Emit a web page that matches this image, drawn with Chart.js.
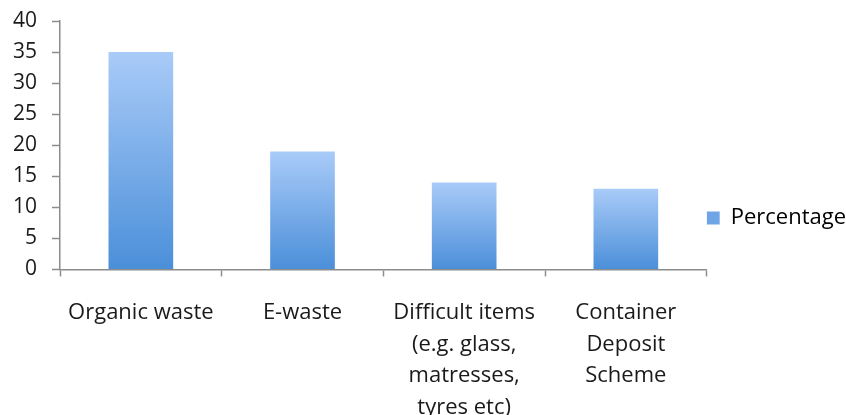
<!DOCTYPE html>
<html>
<head>
<meta charset="utf-8">
<script src="https://cdn.jsdelivr.net/npm/chart.js@4/dist/chart.umd.min.js"></script>
<style>
    html, body { margin: 0; padding: 0; background: #fff; }
    #wrap { width: 846px; height: 415px; }
</style>
</head>
<body>
<div id="wrap"><canvas id="chart"></canvas></div>
<script>
const categories = [
    ['Organic waste'],
    ['E-waste'],
    ['Difficult items', '(e.g. glass,', 'matresses,', 'tyres etc)'],
    ['Container', 'Deposit', 'Scheme']
];
const percentage = [35, 19, 14, 13];
const yMin = 0;
const yMax = 40;
const yStep = 5;

const axisColor = '#8c8c8c';
const textColor = '#1a1a1a';
const fontFamily = "'Open Sans', sans-serif";

function barGradient(context) {
    const chart = context.chart;
    const yScale = chart.scales.y;
    if (!chart.chartArea || !yScale || context.parsed === undefined) return '#7aaeea';
    const top = yScale.getPixelForValue(context.parsed.y);
    const bottom = yScale.getPixelForValue(0);
    if (!isFinite(top) || !isFinite(bottom) || top === bottom) return '#7aaeea';
    const g = chart.ctx.createLinearGradient(0, top, 0, bottom);
    g.addColorStop(0, '#a9cbf8');
    g.addColorStop(1, '#4b8fd9');
    return g;
}

new Chart(document.getElementById('chart'), {
    type: 'bar',
    data: {
        labels: categories,
        datasets: [{
            label: 'Percentage',
            data: percentage,
            backgroundColor: barGradient,
            borderWidth: 0,
            barPercentage: 0.4,
            categoryPercentage: 1
        }]
    },
    options: {
        responsive: true,
        maintainAspectRatio: false,
        animation: false,
        layout: { padding: { top: 21, right: -10, left: -2, bottom: 0 } },
        plugins: {
            legend: {
                position: 'right',
                labels: {
                    color: textColor,
                    boxWidth: 13,
                    boxHeight: 13,
                    padding: 0,
                    font: { family: fontFamily, size: 22 },
                    generateLabels: (chart) => [{
                        text: 'Percentage',
                        fillStyle: '#6fa4e6',
                        strokeStyle: '#6fa4e6',
                        lineWidth: 0,
                        datasetIndex: 0
                    }]
                }
            },
            tooltip: { enabled: false }
        },
        scales: {
            x: {
                // last label runs off the bottom edge, as in the original
                afterFit: (scale) => { scale.height -= 29; },
                grid: {
                    offset: true,
                    drawOnChartArea: false,
                    color: axisColor,
                    tickLength: 7,
                    tickWidth: 1.5
                },
                border: { color: axisColor, width: 1.5 },
                ticks: {
                    color: textColor,
                    padding: 20,
                    maxRotation: 0,
                    autoSkip: false,
                    font: { family: fontFamily, size: 22, lineHeight: 1.45 }
                }
            },
            y: {
                min: yMin,
                max: yMax,
                afterFit: (scale) => { scale.paddingTop = 0; scale.paddingBottom = 0; },
                grid: {
                    drawOnChartArea: false,
                    color: axisColor,
                    tickLength: 8,
                    tickWidth: 1.5
                },
                border: { color: axisColor, width: 1.5 },
                ticks: {
                    stepSize: yStep,
                    color: textColor,
                    padding: 15,
                    font: { family: fontFamily, size: 21 }
                }
            }
        }
    }
});
</script>
</body>
</html>
